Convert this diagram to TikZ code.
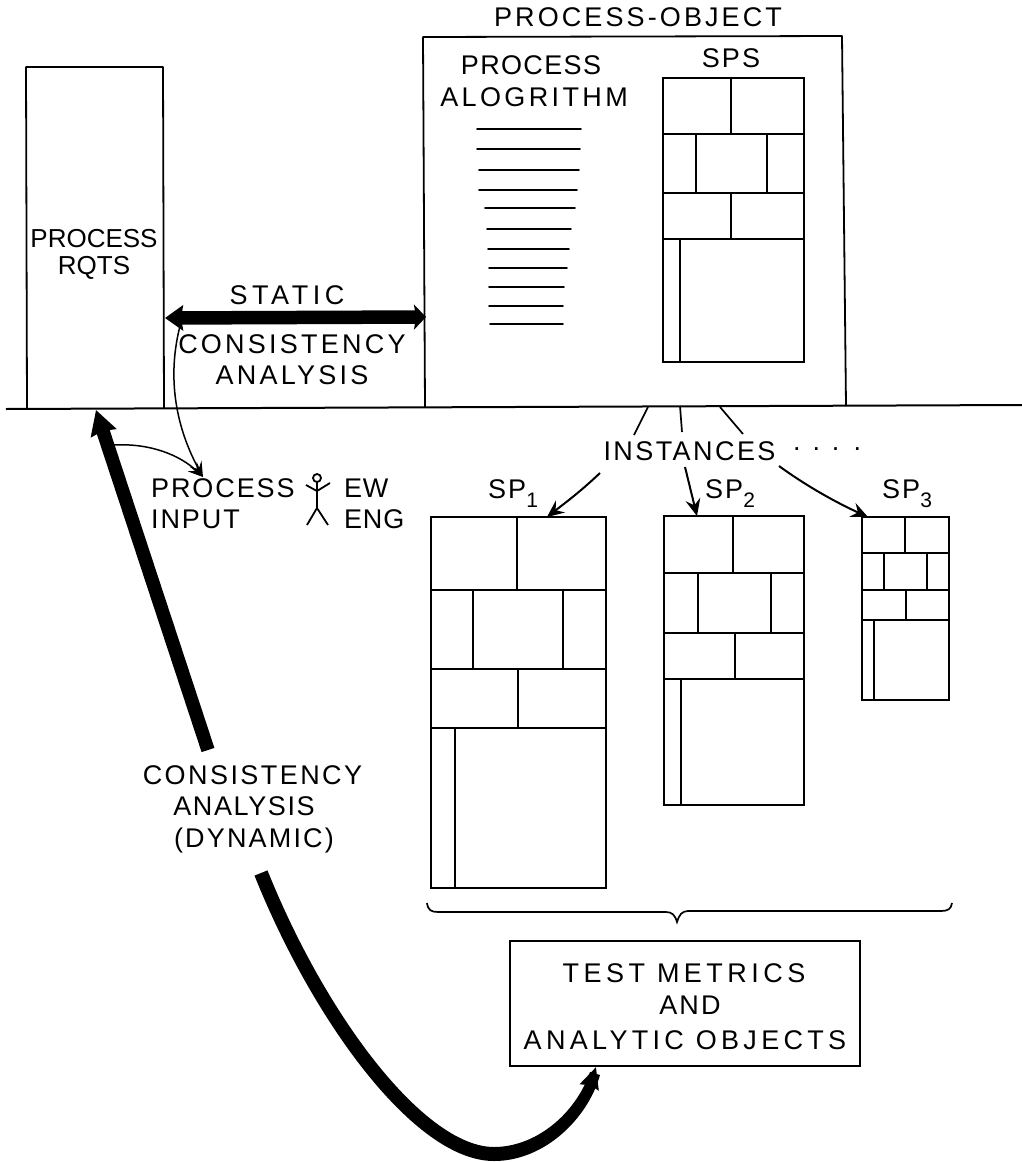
\documentclass[tikz,border=0pt]{standalone}
\usepackage{fontspec}
\usepackage{tikz}
\usetikzlibrary{arrows.meta}
\newfontfamily\letterfont{Liberation Sans}
\tikzset{
  lettering/.style={font=\letterfont\fontsize{27}{31}\selectfont\addfontfeature{LetterSpace=#1}, inner sep=0pt},
  lettering/.default=8,
  boxline/.style={line width=1.8pt, line join=round},
  gridline/.style={line width=1.7pt},
  algline/.style={line width=1.7pt, line cap=round},
  thinarrow/.style={line width=1.5pt, -{Stealth[length=15pt,width=13pt,inset=6pt]}},
  instarrow/.style={line width=2pt, -{Stealth[length=17pt,width=15pt,inset=6pt]}},
  thickarrow/.style={line width=13.5pt, -{Stealth[length=24pt,width=26pt,inset=2pt]}}
}
\newcommand{\spname}[1]{SP\raisebox{-9pt}{\fontsize{21}{21}\selectfont #1}}
% block: x1 y1 x2 y2, row lines a b c, splits d, e f, g, h
\newcommand{\spgrid}[8]{
  \draw[gridline] (#1,#2) rectangle (#3,#4);
  \draw[gridline] (#1,#5) -- (#3,#5);
  \draw[gridline] (#1,#6) -- (#3,#6);
  \draw[gridline] (#1,#7) -- (#3,#7);
  \spcols{#2}{#4}{#5}{#6}{#7}#8
}
\newcommand{\spcols}[5]{\def\rowa{#1}\def\rowd{#2}\def\rowb{#3}\def\rowc{#4}\def\rowe{#5}\spsplit}
\newcommand{\spsplit}[5]{
  \draw[gridline] (#1,\rowa) -- (#1,\rowb);
  \draw[gridline] (#2,\rowb) -- (#2,\rowc);
  \draw[gridline] (#3,\rowb) -- (#3,\rowc);
  \draw[gridline] (#4,\rowc) -- (#4,\rowe);
  \draw[gridline] (#5,\rowe) -- (#5,\rowd);
}
\begin{document}
\begin{tikzpicture}[x=1pt,y=-1pt]
\useasboundingbox (0,0) rectangle (1022,1162);
\fill[white] (0,0) rectangle (1022,1162);

% upper half
\coordinate (gndl) at (6,409);
\coordinate (gndr) at (1022,405);
\draw[line width=2pt] (gndl) -- (gndr);
\draw[boxline] (27,409) -- (26,67) -- (163,67) -- (164,408);
\draw[boxline] (425,407) -- (423,37) -- (842,36) -- (846,406);

\node[lettering=11.5] (title) at (638,17) {PROCESS-OBJECT};
\node[lettering=5] (algoa) at (531,65) {PROCESS};
\node[lettering=12.5] (algob) at (534,97) {ALOGRITHM};
\node[lettering] (sps) at (731,58) {SPS};
\node[font=\letterfont\fontsize{26}{27}\selectfont, inner sep=0pt, align=center] (rqts) at (94,254) {PROCESS\\RQTS};
\node[lettering=17] (static) at (287,295) {STATIC};
\node[lettering=12, align=center] (consist) at (292,360) {CONSISTENCY\\ANALYSIS};

% algorithm lines
\foreach \xa/\xb/\yy in {477/581/129,477/580/149,479/579/170,479/577/190,485/575/208,487/571/229,488/569/249,489/567/268,489/564/287,489/563/306,490/563/324}
  \draw[algline] (\xa,\yy) -- (\xb,\yy);

\spgrid{663}{78}{804}{362}{134}{193}{239}{{731}{696}{767}{731}{680}}

\coordinate (rqtsr) at (165,318);
\coordinate (objl) at (426,317);
\draw[line width=13.5pt, {Stealth[length=18pt,width=25pt,inset=2pt]}-{Stealth[length=12pt,width=25pt,inset=2pt]}] (rqtsr) -- (objl);

% lower half
\node[lettering=7, align=left, anchor=west] (input) at (151,503.5) {PROCESS\\INPUT};
\node[lettering=3, align=left, anchor=west] (eng) at (344,503.5) {EW\\ENG};
\coordinate (inputtip) at (203,477);
\coordinate (statlow) at (180,326);
\coordinate (dynlow) at (114,445);
\draw[thinarrow] (statlow) .. controls (165,385) and (180,435) .. (inputtip);
\draw[thinarrow] (dynlow) .. controls (150,443) and (180,455) .. (inputtip);

% stick figure
\draw[line width=1.8pt] (317,478) circle (4);
\draw[line width=1.8pt] (317,482) -- (317,508);
\draw[line width=1.8pt] (306,485) -- (317,491) -- (330,483);
\draw[line width=1.8pt] (307,525) -- (317,508) -- (328,525);

\node[lettering=9] (inst) at (689.5,451) {INSTANCES};
\node[lettering=0] (dots) at (827,449) {.\hspace{12pt}.\hspace{12pt}.\hspace{14pt}.};
\draw[line width=1.7pt] (648,407) -- (634,435);
\draw[line width=1.7pt] (680,406) -- (682,432);
\draw[line width=1.7pt] (720,407) -- (743,434);

\node[lettering] (spone) at (513,494) {\spname{1}};
\node[lettering] (sptwo) at (730,494) {\spname{2}};
\node[lettering] (spthree) at (907,494) {\spname{3}};

\spgrid{431}{517}{606}{888}{590}{669}{728}{{517}{473}{563}{518}{455}}
\spgrid{664}{516}{804}{805}{573}{633}{679}{{733}{698}{771}{735}{681}}
\spgrid{862}{517}{949}{700}{553}{590}{620}{{905}{884}{927}{906}{874}}

\coordinate (ioneout) at (600,473);
\coordinate (itwoout) at (685,467);
\coordinate (ithreeout) at (779,466);
\coordinate (boneup) at (547,517);
\coordinate (btwoup) at (697,516);
\coordinate (bthreeup) at (868,517);
\draw[instarrow] (ioneout) .. controls (580,492) and (565,503) .. (boneup);
\draw[instarrow] (itwoout) -- (btwoup);
\draw[instarrow] (ithreeout) .. controls (805,485) and (835,502) .. (bthreeup);

% dynamic analysis
\node[lettering=9] (dyna) at (252.5,775) {CONSISTENCY};
\node[lettering=6] (dynb) at (244,806) {ANALYSIS};
\node[lettering=8] (dync) at (254,841) {(DYNAMIC)};
\coordinate (dyntop) at (208,750);
\coordinate (gndtip) at (96,410);
\draw[thickarrow] (dyntop) -- (gndtip);

% brace
\draw[line width=1.7pt] (427,903) .. controls (428,910) and (431,912) .. (438,912) -- (666,912)
  .. controls (672,912) and (675,915) .. (677,922) .. controls (679,915) and (682,911) .. (688,911)
  -- (941,911) .. controls (948,911) and (951,909) .. (952,903);

\node[draw, line width=1.8pt, minimum width=350pt, minimum height=125pt, inner sep=0pt] (metrics) at (685,1003.5) {};
\node[lettering=16.5] (metrica) at (684,973) {TEST METRICS};
\node[lettering] (metricb) at (690,1005) {AND};
\node[lettering=16] (metricc) at (685,1040) {ANALYTIC OBJECTS};

\coordinate (dynbot) at (261,873);
\coordinate (curvelow) at (494,1154);
\coordinate (metricstip) at (596,1067);
\draw[line width=14pt] (dynbot) .. controls (320,1020) and (420,1154) .. (curvelow);
\fill (curvelow) ++(0,7) .. controls (545,1161) and (588,1118) .. (600,1075) -- (590,1072) .. controls (575,1115) and (535,1147) .. (494,1147) -- cycle;
\draw[line width=9pt, -{Stealth[length=21pt,width=19pt,inset=2pt]}] (curvelow) .. controls (540,1154) and (580,1115) .. (metricstip);
\end{tikzpicture}
\end{document}
